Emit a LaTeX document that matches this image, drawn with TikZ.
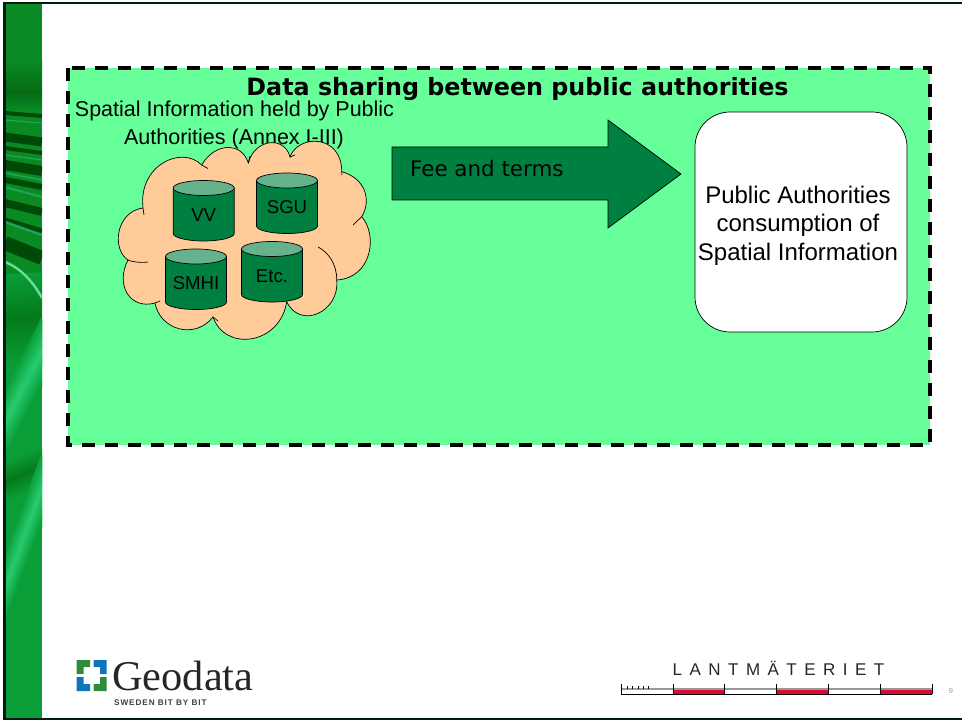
\documentclass[tikz,border=0pt]{standalone}
\usepackage{fontspec}
\setmainfont{Liberation Sans}
\newfontfamily\verdanafont{DejaVu Sans}
\newfontfamily\logofont{Liberation Serif}
\newfontfamily\lantfont[LetterSpace=44]{Liberation Sans}
\newfontfamily\swedenfont[LetterSpace=11]{Liberation Sans}
\usetikzlibrary{arrows.meta,positioning}
\definecolor{panelgreen}{HTML}{66FF99}
\definecolor{cloudfill}{HTML}{FFCC99}
\definecolor{darkgreen}{HTML}{008040}
\definecolor{lidgreen}{HTML}{66B28C}
\definecolor{stripbase}{HTML}{0A9E38}
\definecolor{striptop}{HTML}{0A8A22}
\definecolor{stripdark}{HTML}{004A08}
\definecolor{stripdeep}{HTML}{047A1C}
\definecolor{striplight}{HTML}{28CC70}
\definecolor{framecol}{HTML}{021A10}
\definecolor{logogreen}{HTML}{2E8B3C}
\definecolor{logoblue}{HTML}{0F74BA}
\definecolor{rulered}{HTML}{DC0A32}
\begin{document}
\begin{tikzpicture}[
    x=1pt, y=-1pt,
    storebody/.style={draw, line width=0.7pt, fill=darkgreen},
    storelid/.style={draw, line width=0.7pt, fill=lidgreen},
    storetext/.style={font=\fontsize{18.6}{22}\selectfont},
    bodytext/.style={font=\fontsize{21.5}{26}\selectfont},
    authtext/.style={font=\fontsize{24}{28.5}\selectfont, align=center},
    outline/.style={line width=0.7pt},
    tick/.style={black, line width=0.8pt}
]
\useasboundingbox (0,0) rectangle (962,722);

% Left strip
\begin{scope}
\clip (5,4) rectangle (42,718);
\fill[stripbase] (5,4) rectangle (42,718);
\fill[striptop] (5,4) rectangle (42,290);
\shade[top color=striptop, bottom color=stripdark!50!striptop] (5,60) rectangle (42,92);
\shade[top color=stripdark!50!striptop, bottom color=striptop] (5,92) rectangle (42,110);
% soft bands, lower part
\foreach \l/\r/\h/\c in {320/318/45/stripdeep, 425/352/34/striplight, 482/468/20/stripdeep, 590/490/36/striplight}
    \foreach \i in {-\h,...,\h} {
        \pgfmathsetmacro\m{100*(1-abs(\i)/\h)}
        \draw[\c!\m!stripbase, line width=1.6pt] (5,\l+\i) -- (42,\r+\i);
    }
% stripes, upper part
\foreach \y/\w/\s in {113/4/3,137/9/5,148/4/5,165/10/6,180/6/7,203/8/9,220/5/11,243/14/15}
    \draw[stripdark, line width=\w pt] (5,\y) -- (42,\y+\s);
\foreach \y/\w/\s in {120/1.2/3,155/1.4/5,173/1.6/7,187/2/10,222/2.4/13}
    \draw[striplight!80!black, line width=\w pt] (5,\y) -- (42,\y+\s);
\draw[striplight!70!white, line width=2.4pt] (5,262) .. controls (20,268) and (32,280) .. (42,298);
\end{scope}

% Page frame
\draw[framecol, line width=2.6pt] (962,3) -- (4.5,3) -- (4.5,719) -- (962,719);

% Panel
\fill[panelgreen] (68,68) rectangle (930,445);
\draw[black, line width=3.5pt, dash pattern=on 13pt off 10pt] (68,68) rectangle (930,445);
\node[font=\verdanafont\bfseries\fontsize{23.8}{28}\selectfont] (title) at (517.5,89.5) {Data sharing between public authorities};
\node[bodytext] (heldA) at (234.5,111) {Spatial Information held by Public};
\node[bodytext] (heldB) at (234,139) {Authorities (Annex I-III)};

% Cloud
\draw[outline, fill=cloudfill] (201.7,165)
    .. controls (215,142) and (242,142) .. (248.3,163)
    .. controls (255,138) and (285,136) .. (290,157)
    .. controls (298,134) and (342,134) .. (341.7,171.7)
    .. controls (365,178) and (372,200) .. (361.7,216.7)
    .. controls (378,235) and (372,278) .. (336.7,280)
    .. controls (340,312) and (300,330) .. (286.7,301.7)
    .. controls (280,345) and (225,352) .. (213,317)
    .. controls (195,340) and (160,330) .. (155,303)
    .. controls (130,310) and (115,285) .. (128,260)
    .. controls (112,250) and (115,212) .. (143,208)
    .. controls (138,165) and (182,145) .. (201.7,165) -- cycle;
\draw[outline] (201.7,165) -- (208,168.5);
\draw[outline] (248.3,163) -- (250,156);
\draw[outline] (290,157) -- (295,155);
\draw[outline] (341.7,171.7) -- (342,175);
\draw[outline] (361.7,216.7) -- (353,225);
\draw[outline] (336.7,280) .. controls (337,264) and (328,252) .. (318,247);
\draw[outline] (286.7,301.7) -- (287,295);
\draw[outline] (213,317) -- (218,321);
\draw[outline] (155,303) -- (160,301);
\draw[outline] (128,260) .. controls (132,262) and (143,263) .. (148,262);
\draw[outline] (143,208) -- (144,215);

% Stores
\foreach \nm/\x/\y/\lbl/\dy in {vv/203.7/188/VV/27, sgu/287/180.5/SGU/26.5, smhi/196/256.5/SMHI/26.5, etc/272/249/Etc./27} {
    \draw[storebody] (\x-30.5,\y) -- (\x-30.5,\y+45.5) arc[start angle=180, end angle=0, x radius=30.5, y radius=7.5]
        -- (\x+30.5,\y) -- cycle;
    \draw[storelid] (\x,\y) ellipse[x radius=30.5, y radius=7.5];
    \node[storetext] (\nm) at (\x,\y+\dy) {\lbl};
}

% Fee arrow
\draw[outline, fill=darkgreen] (392,147) -- (608,147) -- (608,120) -- (681,174) -- (608,228) -- (608,200) -- (392,200) -- cycle;
\node[font=\verdanafont\fontsize{21.4}{26}\selectfont, anchor=west, inner sep=0pt] (fee) at (410,169) {Fee and terms};

% Consumer box
\node[draw, outline, fill=white, rounded corners=35pt, minimum width=212pt, minimum height=220pt] (consume) at (801,222) {};
\node[authtext] (consumetext) at (798,225.5) {Public Authorities\\consumption of\\Spatial Information};

% Geodata logo
\fill[logogreen] (76.7,660) -- (90,660) -- (90,667) -- (83.5,667) -- (83.5,674) -- (76.7,674) -- cycle;
\fill[logoblue] (93.5,660) -- (106.7,660) -- (106.7,674) -- (100,674) -- (100,667) -- (93.5,667) -- cycle;
\fill[logoblue] (76.7,677) -- (83.5,677) -- (83.5,684) -- (90,684) -- (90,691) -- (76.7,691) -- cycle;
\fill[logogreen] (100,677) -- (106.7,677) -- (106.7,691) -- (93.5,691) -- (93.5,684) -- (100,684) -- cycle;
\node[font=\logofont\fontsize{42.4}{46}\selectfont, text=black!85, anchor=west, inner sep=0pt] (geodata) at (112,676) {Geodata};
\node[font=\swedenfont\bfseries\fontsize{8.2}{10}\selectfont, text=black!75, anchor=west, inner sep=0pt] (sweden) at (114,702.5) {SWEDEN BIT BY BIT};

% Lantmateriet scale bar
\node[font=\lantfont\fontsize{17}{20}\selectfont, text=black!85, inner sep=0pt] (lant) at (778.5,668) {LANTMÄTERIET};
\foreach \x in {673,776.5,880}
    \fill[rulered] (\x,689) rectangle (\x+52,693.5);
\draw[black!40, line width=1.2pt] (621,689) -- (932,689);
\draw[black, line width=1pt] (621,694) -- (932,694);
\foreach \x in {621,673,724.7,776.5,828,880,932}
    \draw[tick] (\x,683.5) -- (\x,694);
\foreach \x in {627,632.5,638,643.5,648}
    \draw[tick, line width=0.6pt] (\x,686) -- (\x,689);
\node[font=\fontsize{7.5}{9}\selectfont, text=black!40, inner sep=0pt] (pagenum) at (951,691) {9};
\end{tikzpicture}
\end{document}
